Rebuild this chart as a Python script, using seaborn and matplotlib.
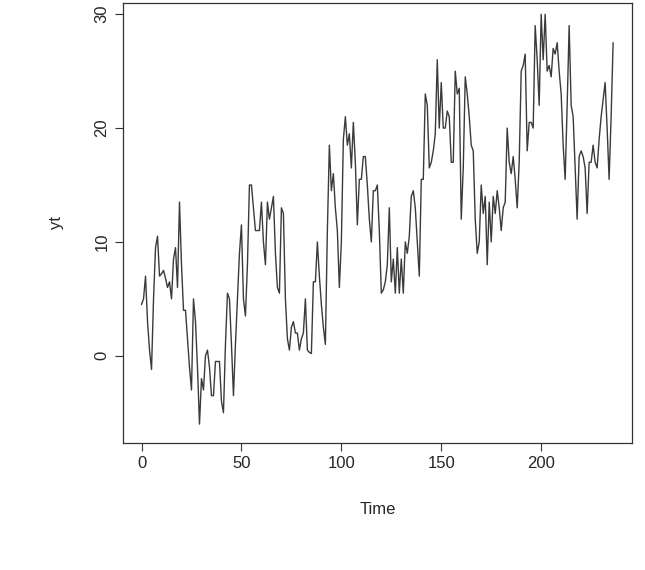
import numpy as np
import pandas as pd
import seaborn as sns
import matplotlib.pyplot as plt

# series values
yt = [4.5, 5, 7, 3, 0.5, -1.2, 5, 9.5, 10.5, 7, 7.2, 7.5, 6.8, 6, 6.5, 5, 8.5, 9.5, 6, 13.5, 8,
      4, 4, 1.5, -1, -3, 5, 3, -1, -6, -2, -3, 0, 0.5, -1, -3.5, -3.5, -0.5, -0.5, -0.5, -4,
      -5, 1, 5.5, 5, 1, -3.5, 1, 5, 9, 11.5, 5, 3.5, 8, 15, 15, 13, 11, 11, 11, 13.5,
      10, 8, 13.5, 12, 13, 14, 9, 6, 5.5, 13, 12.5, 5, 1.5, 0.5, 2.5, 3, 2, 2, 0.5, 1.5,
      2, 5, 0.5, 0.3, 0.2, 6.5, 6.5, 10, 7, 4.5, 2.5, 1, 11, 18.5, 14.5, 16, 13, 11, 6, 10,
      19, 21, 18.5, 19.5, 16.5, 20.5, 17, 11.5, 15.5, 15.5, 17.5, 17.5, 15, 12, 10, 14.5,
      14.5, 15, 11, 5.5, 5.8, 6.5, 8, 13, 6.5, 8.5, 5.5, 9.5, 5.5, 8.5, 5.5, 10, 9, 10.5,
      14, 14.5, 13, 10, 7, 15.5, 15.5, 23, 22, 16.5, 17, 18, 19.5, 26, 20, 24, 20, 20,
      21.5, 21, 17, 17, 25, 23, 23.5, 12, 16.5, 24.5, 23, 21, 18.5, 18, 12, 9, 10, 15,
      12.5, 14, 8, 13.5, 10, 14, 12.5, 14.5, 13, 11, 13, 13.5, 20, 17, 16, 17.5, 15.5,
      13, 17, 25, 25.5, 26.5, 18, 20.5, 20.5, 20, 29, 26, 22, 30, 26, 30, 25, 25.5, 24.5,
      27, 26.5, 27.5, 25, 23, 18.5, 15.5, 22, 29, 22, 21, 16.5, 12, 17.5, 18, 17.5, 16.5,
      12.5, 17, 17, 18.5, 17, 16.5, 19, 21, 22.5, 24, 20, 15.5, 21, 27.5]
time = np.arange(len(yt))
x_ticks = [0, 50, 100, 150, 200]
y_ticks = [0, 10, 20, 30]

df = pd.DataFrame({"Time": time, "yt": yt})

sns.set_style("white")
plt.rcParams["font.family"] = ["Liberation Sans", "DejaVu Sans"]

fig = plt.figure(figsize=(6.45, 5.7), dpi=100)
ax = fig.add_axes([0.19, 0.223, 0.79, 0.772])
sns.lineplot(data=df, x="Time", y="yt", ax=ax, color="#3a3a3a", linewidth=1.0)

ax.set_xlim(-9.5, 245.5)
ax.set_ylim(-7.65, 31.0)
ax.set_xticks(x_ticks)
ax.set_yticks(y_ticks)
ax.set_yticklabels([str(v) for v in y_ticks], rotation=90, va="center")
ax.tick_params(direction="out", length=6, width=0.8, labelsize=12, color="#333333", left=True, bottom=True)
for s in ax.spines.values():
    s.set_color("#333333")
    s.set_linewidth(0.9)
ax.set_xlabel("Time", fontsize=12, labelpad=22)
ax.set_ylabel("yt", fontsize=12, labelpad=22)

fig.savefig("out.png", dpi=100)
